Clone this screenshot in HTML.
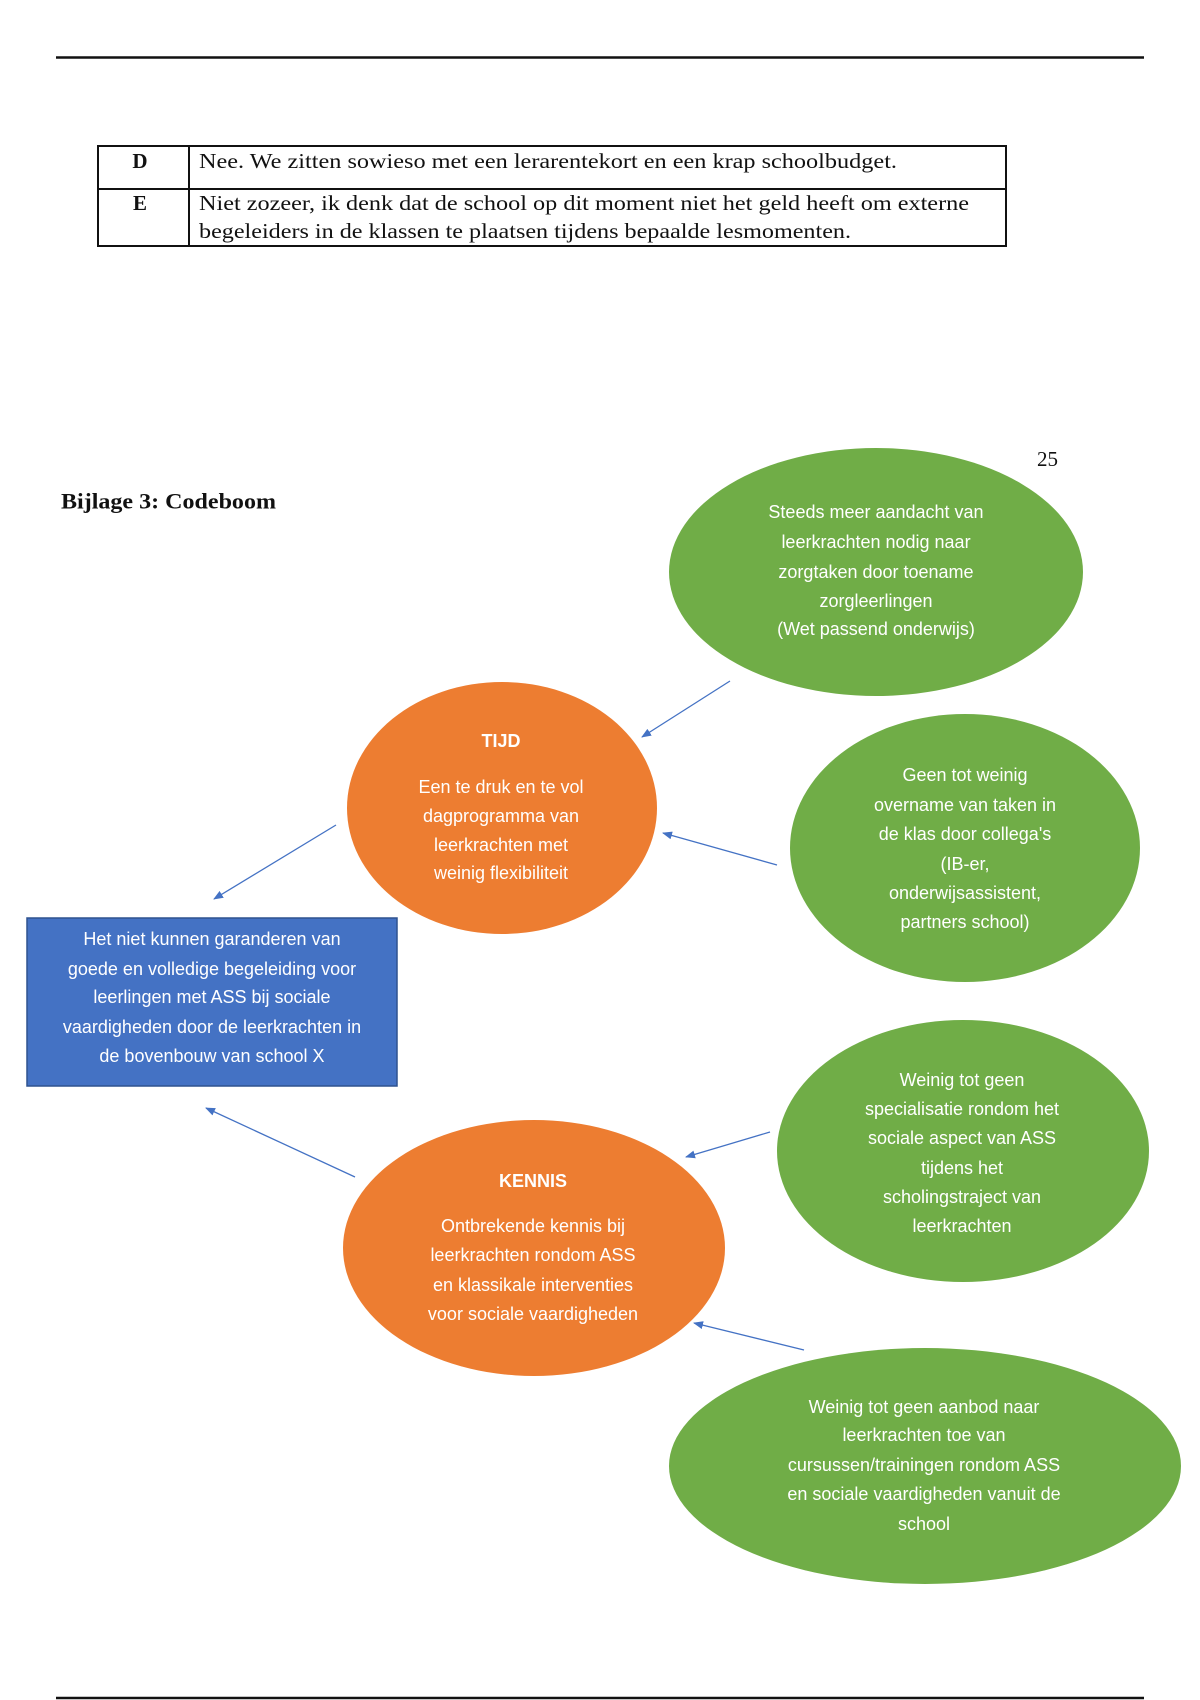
<!DOCTYPE html>
<html><head><meta charset="utf-8"><style>
html,body{margin:0;padding:0;background:#fff;width:1200px;height:1700px;overflow:hidden}
</style></head><body>
<svg width="1200" height="1700" viewBox="0 0 1200 1700" xmlns="http://www.w3.org/2000/svg">
<defs><marker id="ah" markerWidth="10" markerHeight="8" refX="9" refY="4" orient="auto" markerUnits="userSpaceOnUse"><path d="M0,0 L10,4 L0,8 z" fill="#4472c4"/></marker></defs>
<line x1="56" y1="57.5" x2="1144" y2="57.5" stroke="#111" stroke-width="2.5"/>
<g stroke="#111" stroke-width="2" fill="none">
<rect x="98" y="146" width="908" height="100"/>
<line x1="98" y1="189" x2="1006" y2="189"/>
<line x1="189" y1="146" x2="189" y2="246"/>
</g>
<g font-family="Liberation Serif, serif" font-size="21" fill="#111" dominant-baseline="central">
<text x="140" y="161" font-weight="bold" text-anchor="middle">D</text>
<text x="140" y="203" font-weight="bold" text-anchor="middle">E</text>
<text x="199" y="161" textLength="698" lengthAdjust="spacingAndGlyphs">Nee. We zitten sowieso met een lerarentekort en een krap schoolbudget.</text>
<text x="199" y="203" textLength="770" lengthAdjust="spacingAndGlyphs">Niet zozeer, ik denk dat de school op dit moment niet het geld heeft om externe</text>
<text x="199" y="231" textLength="652" lengthAdjust="spacingAndGlyphs">begeleiders in de klassen te plaatsen tijdens bepaalde lesmomenten.</text>
<text x="1037" y="459">25</text>
<text x="61" y="501" font-weight="bold" font-size="22" textLength="215" lengthAdjust="spacingAndGlyphs">Bijlage 3: Codeboom</text>
</g>
<ellipse cx="876" cy="572" rx="207" ry="124" fill="#70ad47"/>
<ellipse cx="502" cy="808" rx="155" ry="126" fill="#ed7d31"/>
<ellipse cx="965" cy="848" rx="175" ry="134" fill="#70ad47"/>
<rect x="27" y="918" width="370" height="168" fill="#4472c4" stroke="#2f528f" stroke-width="1.5"/>
<ellipse cx="963" cy="1151" rx="186" ry="131" fill="#70ad47"/>
<ellipse cx="534" cy="1248" rx="191" ry="128" fill="#ed7d31"/>
<ellipse cx="925" cy="1466" rx="256" ry="118" fill="#70ad47"/>
<g stroke="#4472c4" stroke-width="1.3" marker-end="url(#ah)">
<line x1="730" y1="681" x2="642" y2="737"/>
<line x1="777" y1="865" x2="663" y2="833"/>
<line x1="336" y1="825" x2="214" y2="899"/>
<line x1="355" y1="1177" x2="206" y2="1108"/>
<line x1="770" y1="1132" x2="686" y2="1157"/>
<line x1="804" y1="1350" x2="694" y2="1323"/>
</g>
<g font-family="Liberation Sans, sans-serif" font-size="18" fill="#fff" text-anchor="middle" dominant-baseline="central">
<text x="876" y="512">Steeds meer aandacht van</text>
<text x="876" y="542">leerkrachten nodig naar</text>
<text x="876" y="572">zorgtaken door toename</text>
<text x="876" y="601">zorgleerlingen</text>
<text x="876" y="629">(Wet passend onderwijs)</text>
<text x="501" y="741" font-weight="bold">TIJD</text>
<text x="501" y="787">Een te druk en te vol</text>
<text x="501" y="816">dagprogramma van</text>
<text x="501" y="845">leerkrachten met</text>
<text x="501" y="873">weinig flexibiliteit</text>
<text x="965" y="775">Geen tot weinig</text>
<text x="965" y="805">overname van taken in</text>
<text x="965" y="834">de klas door collega's</text>
<text x="965" y="864">(IB-er,</text>
<text x="965" y="893">onderwijsassistent,</text>
<text x="965" y="922">partners school)</text>
<text x="212" y="939">Het niet kunnen garanderen van</text>
<text x="212" y="969">goede en volledige begeleiding voor</text>
<text x="212" y="997">leerlingen met ASS bij sociale</text>
<text x="212" y="1027">vaardigheden door de leerkrachten in</text>
<text x="212" y="1056">de bovenbouw van school X</text>
<text x="962" y="1080">Weinig tot geen</text>
<text x="962" y="1109">specialisatie rondom het</text>
<text x="962" y="1138">sociale aspect van ASS</text>
<text x="962" y="1168">tijdens het</text>
<text x="962" y="1197">scholingstraject van</text>
<text x="962" y="1226">leerkrachten</text>
<text x="533" y="1181" font-weight="bold">KENNIS</text>
<text x="533" y="1226">Ontbrekende kennis bij</text>
<text x="533" y="1255">leerkrachten rondom ASS</text>
<text x="533" y="1285">en klassikale interventies</text>
<text x="533" y="1314">voor sociale vaardigheden</text>
<text x="924" y="1407">Weinig tot geen aanbod naar</text>
<text x="924" y="1435">leerkrachten toe van</text>
<text x="924" y="1465">cursussen/trainingen rondom ASS</text>
<text x="924" y="1494">en sociale vaardigheden vanuit de</text>
<text x="924" y="1524">school</text>
</g>
<line x1="56" y1="1698" x2="1144" y2="1698" stroke="#111" stroke-width="2.5"/>
</svg>
</body></html>
